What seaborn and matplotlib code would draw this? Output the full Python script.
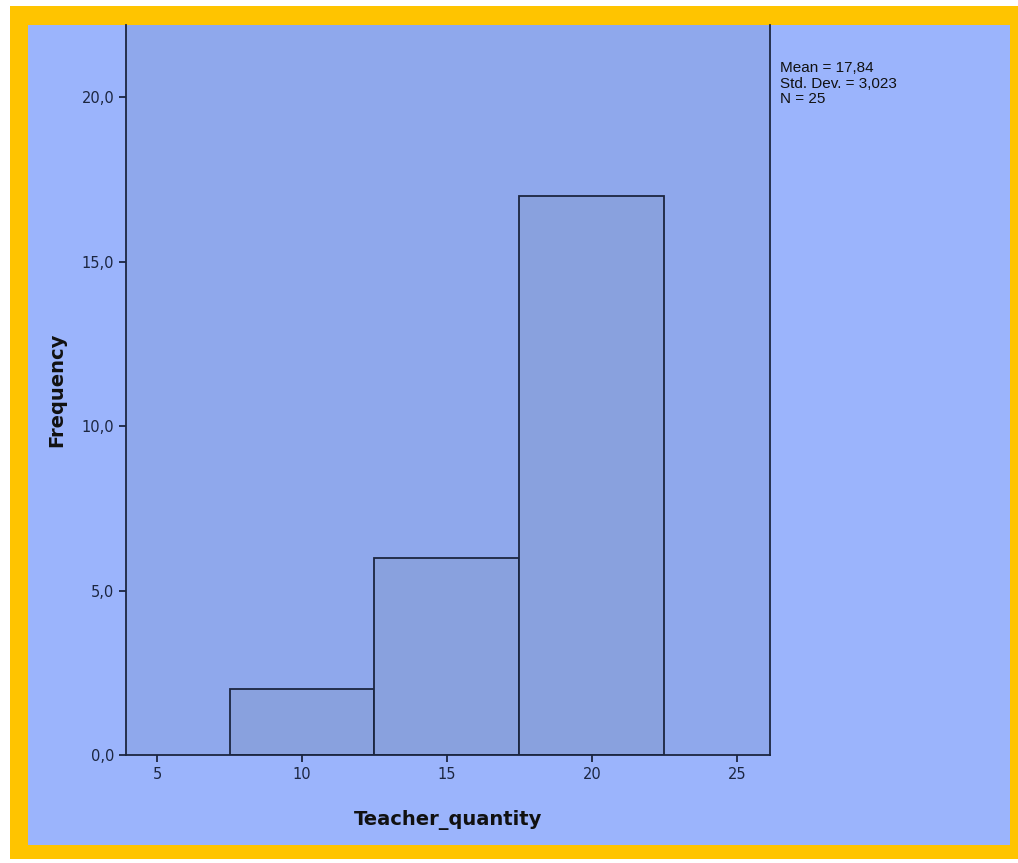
import matplotlib
matplotlib.use("Agg")
import matplotlib.pyplot as plt
import matplotlib.patches as patches
from matplotlib.ticker import FuncFormatter
import seaborn as sns

# histogram: bin centres and counts
bin_centers = [10, 15, 20]
counts = [2, 6, 17]
bin_edges = [7.5, 12.5, 17.5, 22.5]
stats_lines = ["Mean = 17,84", "Std. Dev. = 3,023", "N = 25"]

sns.set_style("ticks")
plt.rcParams["font.family"] = ["DejaVu Sans"]

W, H = 1018, 863
fig = plt.figure(figsize=(W / 100, H / 100), dpi=100)
fig.patch.set_facecolor("white")

# yellow frame and light blue panel
fig.add_artist(patches.Rectangle((10 / W, 1 - 859 / H), 1008 / W, 853 / H,
                                 transform=fig.transFigure, facecolor="#ffc400",
                                 edgecolor="none", zorder=0))
fig.add_artist(patches.Rectangle((28 / W, 1 - 845 / H), 982 / W, 820 / H,
                                 transform=fig.transFigure, facecolor="#9bb4fc",
                                 edgecolor="none", zorder=0))

ax = fig.add_axes([126 / W, 1 - 755 / H, 644 / W, 730 / H])
ax.set_facecolor("#8fa8ec")

sns.histplot(x=bin_centers, weights=counts, bins=bin_edges, ax=ax,
             color="#89a1de", edgecolor="#1c2640", linewidth=1.3, alpha=1)

ax.set_xlim(3.93, 26.14)
ax.set_ylim(0, 22.19)
ax.set_xticks([5, 10, 15, 20, 25])
ax.set_yticks([0, 5, 10, 15, 20])
ax.yaxis.set_major_formatter(FuncFormatter(lambda v, p: f"{v:.1f}".replace(".", ",")))
ax.tick_params(colors="#1c2640", labelsize=10.5, length=5, width=1.3)

for side in ["left", "bottom", "right"]:
    ax.spines[side].set_color("#1c2640")
    ax.spines[side].set_linewidth(1.3)
ax.spines["top"].set_visible(False)

ax.set_xlabel("Teacher_quantity", fontsize=14, fontweight="bold", labelpad=20,
              color="#111111")
ax.set_ylabel("Frequency", fontsize=14, fontweight="bold", labelpad=11,
              color="#111111")

fig.text(780 / W, 1 - 61 / H, "\n".join(stats_lines), fontsize=11,
         family="Liberation Sans", va="top", ha="left", color="#111111",
         linespacing=1.15)

fig.savefig("out.png", dpi=100)
